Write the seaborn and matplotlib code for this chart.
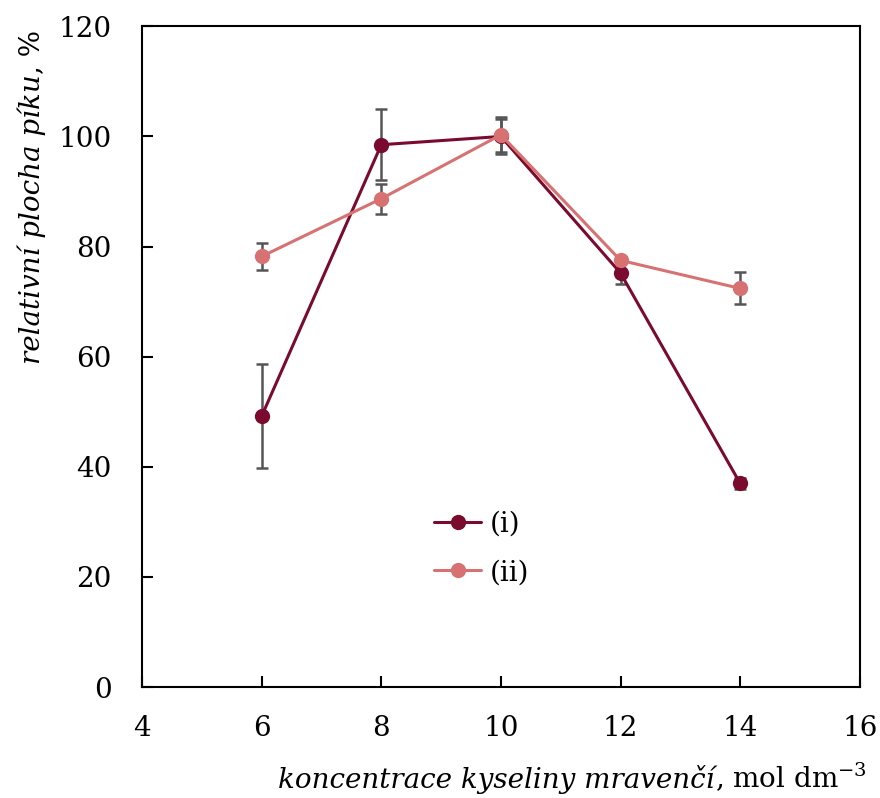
import matplotlib
matplotlib.use("Agg")
import matplotlib.pyplot as plt
import seaborn as sns
import pandas as pd

# Formic acid concentration (mol dm^-3)
concentration = [6, 8, 10, 12, 14]

# Relative peak area (%) and standard deviations
area_i = [49.2, 98.5, 100.0, 75.2, 37.0]
err_i = [9.4, 6.4, 3.2, 2.0, 1.0]
area_ii = [78.2, 88.7, 100.3, 77.5, 72.4]
err_ii = [2.5, 2.7, 3.2, 0.0, 2.9]

series_labels = ["(i)", "(ii)"]
colors = ["#7a0a2e", "#d87272"]

sns.set_theme(style="white")
plt.rcParams["font.family"] = ["DejaVu Serif"]
plt.rcParams["mathtext.fontset"] = "dejavuserif"
plt.rcParams["text.color"] = "black"
plt.rcParams["axes.labelcolor"] = "black"

FS = 20

df = pd.concat([
    pd.DataFrame({"c": concentration, "area": area_i, "err": err_i, "series": series_labels[0]}),
    pd.DataFrame({"c": concentration, "area": area_ii, "err": err_ii, "series": series_labels[1]}),
])

fig = plt.figure(figsize=(8.8, 7.98), dpi=100)
ax = fig.add_axes([0.1614, 0.139, 0.8156, 0.828])

for lab in series_labels:
    sub = df[df["series"] == lab]
    ax.errorbar(sub["c"], sub["area"], yerr=sub["err"], fmt="none",
                ecolor="#555555", elinewidth=1.8, capsize=4.5, capthick=1.8, zorder=2)

sns.lineplot(data=df, x="c", y="area", hue="series", palette=colors,
             marker="o", markersize=11, markeredgewidth=0, linewidth=2.2,
             sort=False, ax=ax, zorder=3)

ax.set_xlim(4, 16)
ax.set_ylim(0, 120)
ax.set_xticks(range(4, 17, 2))
ax.set_yticks(range(0, 121, 20))
ax.tick_params(axis="both", direction="in", length=8, width=1.5, colors="black",
               labelsize=FS, bottom=True, left=True)
ax.tick_params(axis="x", pad=20)
ax.tick_params(axis="y", pad=22)
for s in ax.spines.values():
    s.set_color("black")
    s.set_linewidth(1.5)

# x-axis label: italic quantity name followed by upright units
ax.set_xlabel("")
renderer = fig.canvas.get_renderer()
xl_it = fig.text(0, 0, "koncentrace kyseliny mravenčí", fontsize=FS, style="italic")
xl_up = fig.text(0, 0, r", mol dm$^{\mathregular{-3}}$", fontsize=FS)
w_it = xl_it.get_window_extent(renderer).width / fig.bbox.width
w_up = xl_up.get_window_extent(renderer).width / fig.bbox.width
x_right = 0.985
y_base = 0.012
xl_up.set_position((x_right - w_up, y_base))
xl_it.set_position((x_right - w_up - w_it, y_base))

# y-axis label: italic quantity name followed by upright unit
ax.set_ylabel("")
yl_it = fig.text(0, 0, "relativní plocha píku", fontsize=FS, style="italic",
                 rotation=90, ha="center", va="bottom")
yl_up = fig.text(0, 0, ", %", fontsize=FS, rotation=90, ha="center", va="bottom")
h_it = yl_it.get_window_extent(renderer).height / fig.bbox.height
h_up = yl_up.get_window_extent(renderer).height / fig.bbox.height
y_top = 0.962
x_c = 0.036
yl_up.set_position((x_c, y_top - h_up))
yl_it.set_position((x_c, y_top - h_up - h_it))

leg = ax.legend(loc="upper left", bbox_to_anchor=(0.372, 0.305), frameon=False,
                fontsize=FS, handlelength=1.7, handletextpad=0.3, labelspacing=0.78,
                title=None)

fig.savefig("out.png", dpi=100)
